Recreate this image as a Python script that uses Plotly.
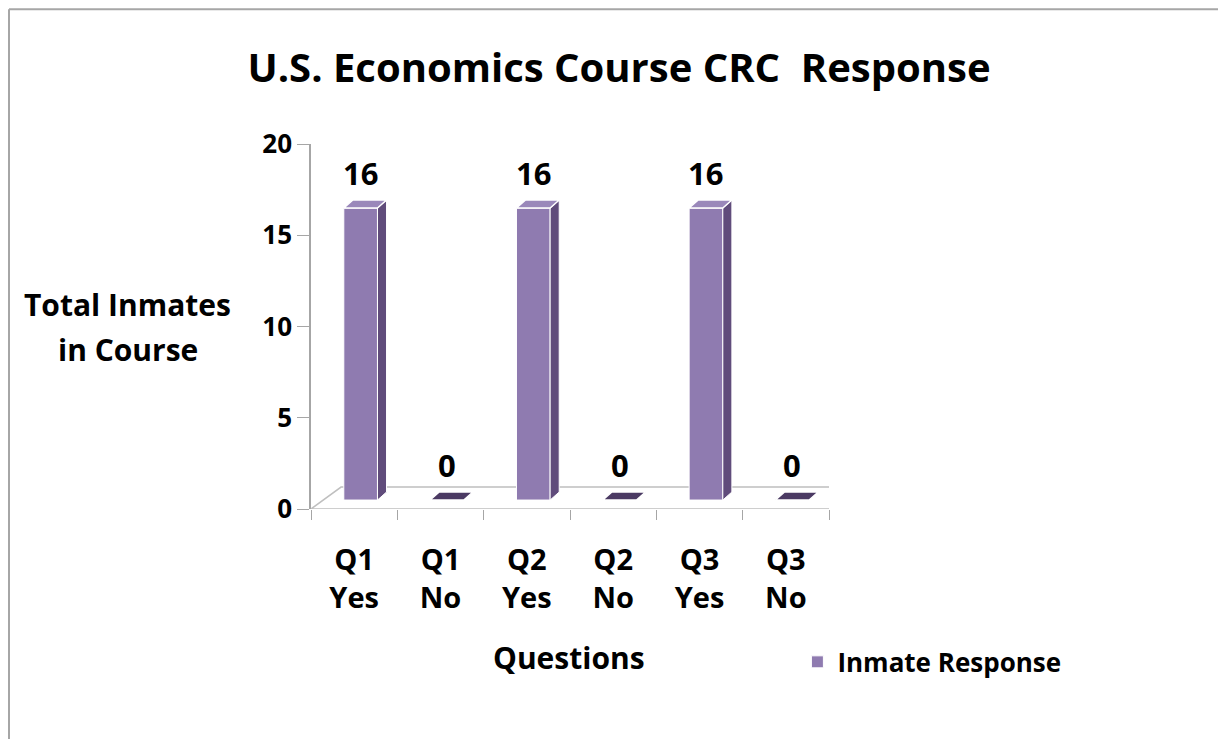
import plotly.graph_objects as go

# chart data
categories = ["Q1<br>Yes", "Q1<br>No", "Q2<br>Yes", "Q2<br>No", "Q3<br>Yes", "Q3<br>No"]
responses = [16, 0, 16, 0, 16, 0]
y_ticks = [0, 5, 10, 15, 20]
series_name = "Inmate Response"
title_text = "U.S. Economics Course CRC  Response"

FONT = "Open Sans"
FRONT = "#8F7BB0"
SIDE = "#604C7B"
TOP = "#9A88BA"
FLAT = "#4B3A63"
GRAY = "#A6A6A6"

# fake 3D look
bar_w = 0.39
dx = 0.105   # depth in category units
dy = 0.44    # depth in value units

xs = list(range(len(categories)))

fig = go.Figure()

# invisible trace so the label axis knows the categories
fig.add_trace(go.Scatter(x=categories, y=[0] * len(categories), mode="markers",
                         marker=dict(opacity=0), showlegend=False, hoverinfo="skip"))

# front faces
fig.add_trace(go.Bar(x=xs, y=responses, width=bar_w, name=series_name,
                     marker=dict(color=FRONT, line=dict(color="white", width=1)),
                     xaxis="x2", yaxis="y2"))

# side and top faces built from the values
for i, v in zip(xs, responses):
    left = i - bar_w / 2
    right = i + bar_w / 2
    if v > 0:
        fig.add_trace(go.Scatter(
            x=[right, right + dx, right + dx, right, right],
            y=[0, dy, v + dy, v, 0],
            fill="toself", fillcolor=SIDE, mode="lines",
            line=dict(color="white", width=1),
            showlegend=False, hoverinfo="skip", xaxis="x2", yaxis="y2"))
    fig.add_trace(go.Scatter(
        x=[left, right, right + dx, left + dx, left],
        y=[v, v, v + dy, v + dy, v],
        fill="toself", fillcolor=TOP if v > 0 else FLAT, mode="lines",
        line=dict(color="white", width=1.5),
        showlegend=False, hoverinfo="skip", xaxis="x2", yaxis="y2"))

# data labels
for i, v in zip(xs, responses):
    fig.add_annotation(x=i, y=v, xref="x2", yref="y2", text=str(v), showarrow=False,
                       yshift=35, font=dict(family=FONT, size=31, color="black", weight="bold"))

# floor of the 3D plot
fig.add_shape(type="path", xref="x", yref="y",
              path="M -0.5,0 L -0.152,1.2 L 5.84,1.2 L 5.5,0 Z",
              line=dict(color="#BFBFBF", width=1.5), fillcolor="white", layer="below")

# outer frame, only top and left edges are in view
fig.add_shape(type="line", xref="paper", yref="paper",
              x0=-0.583, x1=1.8, y0=1.369, y1=1.369, line=dict(color=GRAY, width=2))
fig.add_shape(type="line", xref="paper", yref="paper",
              x0=-0.583, x1=-0.583, y0=-0.7, y1=1.369, line=dict(color=GRAY, width=2))

# axis titles (two lines placed separately for the wider line gap)
title_font = dict(family=FONT, size=30, color="black", weight="bold")
fig.add_annotation(x=-0.354, y=0.559, xref="paper", yref="paper", xanchor="center",
                   yanchor="middle", text="Total Inmates", showarrow=False, font=title_font)
fig.add_annotation(x=-0.354, y=0.436, xref="paper", yref="paper", xanchor="center",
                   yanchor="middle", text="in Course", showarrow=False, font=title_font)
fig.add_annotation(x=0.498, y=-0.408, xref="paper", yref="paper", xanchor="center",
                   yanchor="middle", text="Questions", showarrow=False,
                   font=dict(family=FONT, size=30, color="black", weight="bold"))

fig.update_layout(
    width=1210, height=731,
    margin=dict(l=303, r=389, t=136, b=230),
    paper_bgcolor="white", plot_bgcolor="white",
    title=dict(text=title_text, x=0.505, y=0.918, xanchor="center", yanchor="middle",
               font=dict(family=FONT, size=40, color="black", weight="bold")),
    xaxis=dict(type="category", categoryarray=categories, range=[-0.5, 5.5],
               tickson="boundaries", ticks="outside", ticklen=10, tickcolor=GRAY,
               ticklabelstandoff=31,
               showline=False, showgrid=False, zeroline=False,
               tickfont=dict(family=FONT, size=29, color="black", weight="bold")),
    yaxis=dict(range=[0, 20], tickvals=y_ticks, ticks="outside", ticklen=12,
               tickcolor=GRAY, showline=True, linecolor=GRAY, linewidth=1.5,
               showgrid=False, zeroline=False,
               tickfont=dict(family=FONT, size=26, color="black", weight="bold")),
    xaxis2=dict(overlaying="x", anchor="y2", range=[-0.575, 5.425], visible=False),
    yaxis2=dict(overlaying="y", anchor="x2", range=[-0.49, 19.51], visible=False),
    legend=dict(x=0.939, y=-0.419, xanchor="left", yanchor="middle",
                font=dict(family=FONT, size=26, color="black", weight="bold")),
    showlegend=True,
)

fig.write_html("out.html")
